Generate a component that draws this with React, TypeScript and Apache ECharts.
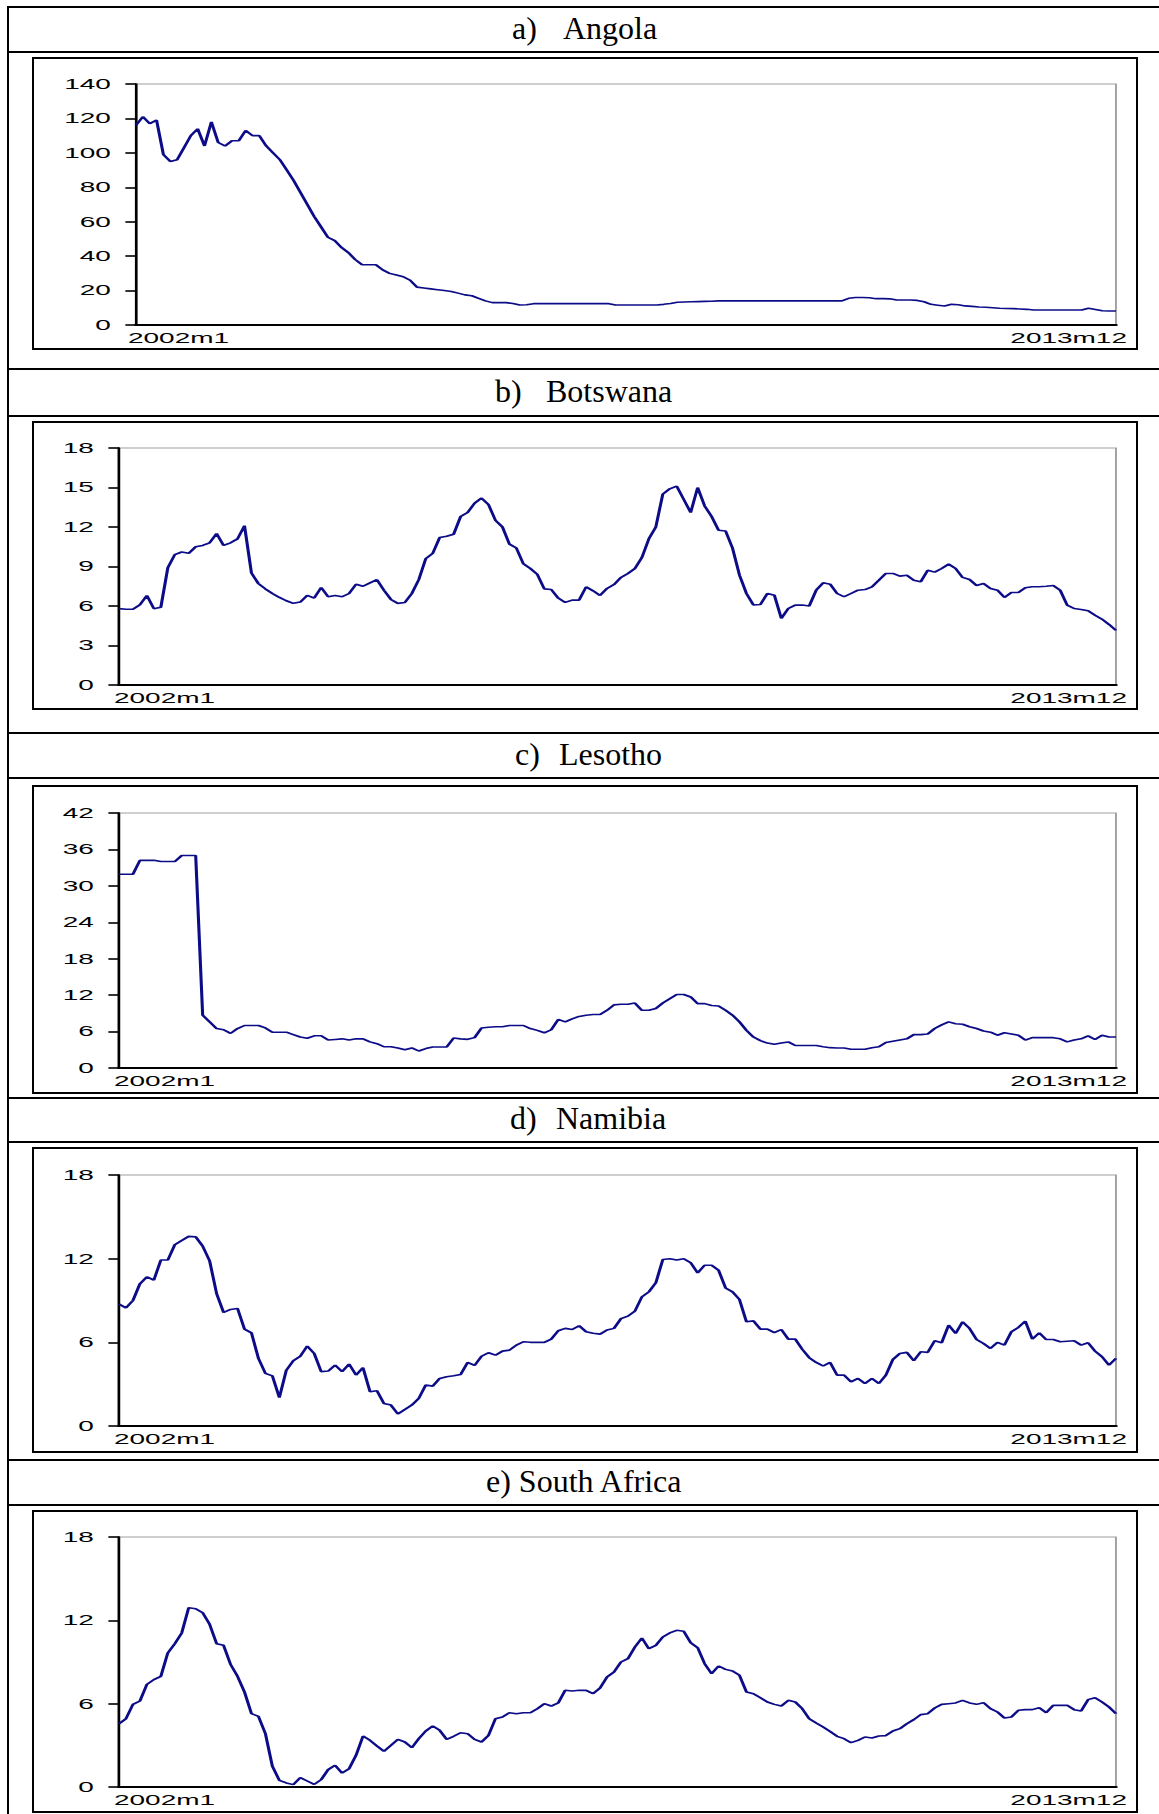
import React, { useEffect, useRef } from "react";
import * as echarts from "echarts";

// ---------- data ----------
const months: string[] = [];
for (let y = 2002; y <= 2013; y++) for (let m = 1; m <= 12; m++) months.push(`${y}m${m}`);

const angola = [
  116, 121, 117, 119, 99, 95, 96, 103, 110, 114,
  104, 118, 106, 104, 107, 107, 113, 110, 110, 104,
  100, 96, 90, 84, 77, 70, 63, 57, 51, 49,
  45, 42, 38, 35, 35, 35, 32, 30, 29, 28,
  26, 22, 21.5, 21, 20.5, 20, 19.5, 18.5, 17.5, 17,
  15.5, 14, 13, 13, 13, 12.5, 11.6, 11.8, 12.4, 12.4,
  12.4, 12.4, 12.4, 12.4, 12.4, 12.4, 12.4, 12.4, 12.4, 12.4,
  11.6, 11.6, 11.6, 11.6, 11.6, 11.6, 11.6, 12, 12.5, 13.2,
  13.4, 13.5, 13.6, 13.7, 13.8, 14, 14, 14, 14, 14,
  14, 14, 14, 14, 14, 14, 14, 14, 14, 14,
  14, 14, 14, 14, 15.5, 16, 16, 15.8, 15.3, 15.3,
  15.2, 14.5, 14.5, 14.5, 14.3, 13.5, 12, 11.5, 11, 12,
  11.8, 11.1, 10.8, 10.5, 10.3, 10, 9.7, 9.6, 9.5, 9.3,
  9.1, 8.7, 8.7, 8.7, 8.7, 8.7, 8.7, 8.7, 8.7, 9.7,
  9, 8.3, 8.1, 8.1,
];

const botswana = [
  5.8, 5.75, 5.75, 6.1, 6.8, 5.8, 5.9, 8.9, 9.9, 10.1,
  10.0, 10.5, 10.6, 10.8, 11.5, 10.6, 10.8, 11.1, 12.1, 8.5,
  7.7, 7.3, 6.95, 6.65, 6.4, 6.2, 6.3, 6.8, 6.6, 7.4,
  6.7, 6.8, 6.7, 6.95, 7.65, 7.5, 7.75, 8.0, 7.2, 6.5,
  6.2, 6.27, 6.95, 8.0, 9.6, 10.0, 11.2, 11.3, 11.45, 12.8,
  13.1, 13.8, 14.2, 13.7, 12.5, 12.0, 10.7, 10.4, 9.2, 8.85,
  8.4, 7.3, 7.25, 6.6, 6.27, 6.45, 6.45, 7.45, 7.15, 6.8,
  7.33, 7.63, 8.17, 8.47, 8.85, 9.68, 11.1, 12.0, 14.5, 14.9,
  15.1, 14.1, 13.1, 15.0, 13.6, 12.8, 11.75, 11.7, 10.4, 8.34,
  6.95, 6.07, 6.12, 6.95, 6.82, 5.06, 5.81, 6.07, 6.07, 6.0,
  7.2, 7.76, 7.66, 6.95, 6.7, 6.95, 7.2, 7.25, 7.46, 7.96,
  8.47, 8.47, 8.27, 8.34, 7.96, 7.84, 8.72, 8.57, 8.85, 9.18,
  8.85, 8.17, 8.01, 7.56, 7.71, 7.33, 7.2, 6.65, 7.03, 7.03,
  7.38, 7.46, 7.46, 7.5, 7.56, 7.2, 6.07, 5.81, 5.74, 5.64,
  5.3, 5.0, 4.6, 4.15,
];

const lesotho = [
  31.9, 31.9, 31.9, 34.2, 34.2, 34.2, 34.0, 34.0, 34.0, 35.0,
  35.0, 35.0, 8.7, 7.6, 6.5, 6.3, 5.7, 6.5, 7.0, 7.0,
  7.0, 6.6, 5.9, 5.9, 5.9, 5.5, 5.1, 4.9, 5.3, 5.3,
  4.6, 4.7, 4.8, 4.6, 4.8, 4.8, 4.3, 4.0, 3.5, 3.5,
  3.3, 3.0, 3.3, 2.8, 3.2, 3.46, 3.46, 3.46, 4.94, 4.8,
  4.72, 5.0, 6.6, 6.7, 6.8, 6.8, 7.0, 7.0, 7.0, 6.5,
  6.2, 5.8, 6.3, 8.0, 7.6, 8.1, 8.5, 8.7, 8.8, 8.8,
  9.5, 10.4, 10.5, 10.5, 10.7, 9.5, 9.5, 9.8, 10.7, 11.4,
  12.1, 12.1, 11.7, 10.6, 10.6, 10.3, 10.2, 9.5, 8.7, 7.6,
  6.2, 5.1, 4.5, 4.1, 3.9, 4.1, 4.3, 3.7, 3.7, 3.7,
  3.7, 3.5, 3.35, 3.3, 3.3, 3.1, 3.1, 3.1, 3.35, 3.5,
  4.2, 4.4, 4.6, 4.8, 5.5, 5.5, 5.6, 6.5, 7.1, 7.6,
  7.3, 7.2, 6.8, 6.5, 6.1, 5.9, 5.4, 5.8, 5.6, 5.4,
  4.6, 5.0, 5.0, 5.0, 5.0, 4.8, 4.3, 4.6, 4.8, 5.3,
  4.7, 5.4, 5.1, 5.1,
];

const namibia = [
  8.74, 8.47, 9.0, 10.2, 10.7, 10.46, 11.9, 11.9, 13.0, 13.3,
  13.6, 13.56, 12.9, 11.84, 9.5, 8.14, 8.36, 8.43, 6.95, 6.68,
  4.85, 3.77, 3.6, 2.03, 4.0, 4.68, 5.0, 5.73, 5.2, 3.9,
  3.94, 4.37, 3.9, 4.44, 3.65, 4.18, 2.46, 2.53, 1.62, 1.5,
  0.86, 1.19, 1.5, 1.98, 2.94, 2.86, 3.41, 3.53, 3.6, 3.7,
  4.56, 4.34, 5.0, 5.25, 5.08, 5.37, 5.44, 5.8, 6.04, 6.0,
  6.0, 6.0, 6.23, 6.83, 7.0, 6.92, 7.19, 6.76, 6.65, 6.59,
  6.88, 7.0, 7.7, 7.88, 8.24, 9.26, 9.62, 10.27, 11.94, 12.0,
  11.9, 12.0, 11.7, 10.98, 11.53, 11.53, 11.17, 9.9, 9.62, 9.07,
  7.47, 7.54, 6.95, 6.95, 6.7, 6.92, 6.23, 6.23, 5.5, 4.9,
  4.56, 4.3, 4.56, 3.65, 3.65, 3.17, 3.41, 3.05, 3.41, 3.05,
  3.65, 4.77, 5.2, 5.28, 4.68, 5.32, 5.28, 6.11, 5.97, 7.23,
  6.64, 7.47, 7.0, 6.2, 5.92, 5.56, 6.0, 5.8, 6.76, 7.07,
  7.52, 6.23, 6.68, 6.2, 6.2, 6.04, 6.08, 6.11, 5.8, 5.97,
  5.37, 4.97, 4.37, 4.85,
];

const southAfrica = [
  4.56, 4.92, 5.95, 6.19, 7.39, 7.73, 7.97, 9.65, 10.32, 11.09,
  12.91, 12.84, 12.55, 11.71, 10.32, 10.2, 8.83, 7.97, 6.84, 5.28,
  5.09, 3.84, 1.49, 0.48, 0.29, 0.17, 0.67, 0.43, 0.19, 0.53,
  1.25, 1.56, 1.0, 1.32, 2.28, 3.67, 3.36, 2.95, 2.57, 3.0,
  3.43, 3.24, 2.83, 3.48, 4.03, 4.39, 4.08, 3.43, 3.65, 3.91,
  3.84, 3.43, 3.24, 3.72, 4.92, 5.04, 5.35, 5.28, 5.35, 5.35,
  5.64, 6.0, 5.83, 6.05, 6.96, 6.91, 6.96, 6.96, 6.72, 7.13,
  7.92, 8.28, 9.0, 9.24, 10.08, 10.73, 9.96, 10.2, 10.8, 11.09,
  11.28, 11.21, 10.39, 10.03, 8.88, 8.16, 8.71, 8.47, 8.35, 8.04,
  6.84, 6.72, 6.43, 6.12, 5.95, 5.83, 6.24, 6.12, 5.64, 4.92,
  4.61, 4.32, 4.0, 3.65, 3.48, 3.19, 3.36, 3.6, 3.53, 3.67,
  3.7, 4.03, 4.2, 4.56, 4.85, 5.21, 5.28, 5.69, 5.95, 6.0,
  6.05, 6.24, 6.05, 5.95, 6.07, 5.64, 5.4, 4.97, 5.04, 5.52,
  5.57, 5.57, 5.71, 5.35, 5.88, 5.88, 5.88, 5.57, 5.47, 6.29,
  6.43, 6.12, 5.76, 5.28,
];

const panelLetters = ["a)", "b)", "c)", "d)", "e)"];
const panelNames = ["Angola", "Botswana", "Lesotho", "Namibia", "South Africa"];
const panelSeries = [angola, botswana, lesotho, namibia, southAfrica];
const yMaxes = [140, 18, 42, 18, 18];
const yIntervals = [20, 3, 6, 6, 6];

// ---------- layout (page pixels) ----------
const PAGE_W = 1159;
const PAGE_H = 1814;
const S = 1.93; // horizontal stretch of the embedded graphs
const BOX_L = 33;
const BOX_R = 1137;
const PLOT_R = 1116;
const TABLE_L = 8;
const layout = [
  { rowTop: 7, titleBottom: 52, boxTop: 58, boxBottom: 349, plotTop: 84, zeroY: 325, axisX: 136, letterX: 512, nameX: 563, lblL: 8 },
  { rowTop: 369, titleBottom: 416, boxTop: 422, boxBottom: 709, plotTop: 448, zeroY: 685, axisX: 119, letterX: 495, nameX: 546, lblL: 5 },
  { rowTop: 733, titleBottom: 778, boxTop: 786, boxBottom: 1093, plotTop: 813, zeroY: 1068, axisX: 119, letterX: 515, nameX: 559, lblL: 5 },
  { rowTop: 1098, titleBottom: 1142, boxTop: 1148, boxBottom: 1452, plotTop: 1175, zeroY: 1426, axisX: 119, letterX: 510, nameX: 556, lblL: 5 },
  { rowTop: 1460, titleBottom: 1505, boxTop: 1511, boxBottom: 1812, plotTop: 1537, zeroY: 1787, axisX: 119, letterX: 486, nameX: 0, lblL: 5 },
];
const LBL_R = 11; // last date label overhang past plot end (page px)

const SANS = '"Liberation Sans", Arial, sans-serif';
const SERIF = '"Liberation Serif", "Times New Roman", serif';
const TITLE_SIZE = 32;
const TICK_SIZE = 14.5;

function backgroundOption() {
  const g: any[] = [];
  const line = (x1: number, y1: number, x2: number, y2: number, w: number) =>
    g.push({ type: "line", silent: true, shape: { x1, y1, x2, y2 }, style: { stroke: "#000", lineWidth: w } });
  line(TABLE_L, 6, TABLE_L, PAGE_H, 2);
  layout.forEach((p, i) => {
    line(TABLE_L - 1, p.rowTop, PAGE_W, p.rowTop, 2);
    line(TABLE_L - 1, p.titleBottom, PAGE_W, p.titleBottom, 2);
    g.push({
      type: "rect",
      silent: true,
      shape: { x: BOX_L, y: p.boxTop, width: BOX_R - BOX_L, height: p.boxBottom - p.boxTop },
      style: { fill: "none", stroke: "#000", lineWidth: 2 },
    });
    const cy = (p.rowTop + p.titleBottom) / 2 - 2;
    const font = `${TITLE_SIZE}px ${SERIF}`;
    const st = { font, fill: "#000", align: "left", verticalAlign: "middle", textAlign: "left", textVerticalAlign: "middle" };
    if (i < 4) {
      g.push({ type: "text", silent: true, style: { ...st, text: panelLetters[i], x: p.letterX, y: cy } });
      g.push({ type: "text", silent: true, style: { ...st, text: panelNames[i], x: p.nameX, y: cy } });
    } else {
      g.push({ type: "text", silent: true, style: { ...st, text: `${panelLetters[i]} ${panelNames[i]}`, x: p.letterX, y: cy } });
    }
  });
  return { animation: false, graphic: { elements: g } };
}

function panelOption(i: number) {
  const p = layout[i];
  return {
    animation: false,
    grid: {
      left: (p.axisX - BOX_L) / S,
      right: (BOX_R - PLOT_R) / S,
      top: p.plotTop - p.boxTop,
      bottom: p.boxBottom - p.zeroY,
      show: true,
      borderColor: "#a0a0a0",
      borderWidth: 1,
      backgroundColor: "transparent",
    },
    xAxis: {
      type: "category",
      data: months,
      boundaryGap: false,
      axisLine: { show: true, onZero: false, lineStyle: { color: "#000", width: 2 } },
      axisTick: { show: false },
      splitLine: { show: false },
      axisLabel: { show: false },
    },
    yAxis: {
      type: "value",
      min: 0,
      max: yMaxes[i],
      interval: yIntervals[i],
      axisLine: { show: true, lineStyle: { color: "#000", width: 1.4 } },
      axisTick: { show: true, length: 5.5, lineStyle: { color: "#000", width: 1.6 } },
      splitLine: { show: false },
      axisLabel: { margin: 13, fontFamily: SANS, fontSize: TICK_SIZE, color: "#000" },
    },
    series: [
      {
        type: "line",
        data: panelSeries[i],
        symbol: "none",
        silent: true,
        lineStyle: { color: "#0c0c88", width: 1.6 },
      },
    ],
  };
}

// first / last date labels placed from the category axis' own pixel positions
function dateLabels(c: echarts.ECharts, i: number) {
  const p = layout[i];
  const first = months[0];
  const last = months[months.length - 1];
  const x0 = c.convertToPixel({ xAxisIndex: 0 }, first) as number;
  const x1 = c.convertToPixel({ xAxisIndex: 0 }, last) as number;
  const y0 = c.convertToPixel({ yAxisIndex: 0 }, 0) as number;
  const st = { fontFamily: SANS, fontSize: TICK_SIZE, fill: "#000", verticalAlign: "top", textVerticalAlign: "top" };
  return {
    graphic: [
      { type: "text", silent: true, x: x0 - p.lblL / S, y: y0 + 6, style: { ...st, text: first, align: "left", textAlign: "left" } },
      { type: "text", silent: true, x: x1 + LBL_R / S, y: y0 + 6, style: { ...st, text: last, align: "right", textAlign: "right" } },
    ],
  };
}

export default function App() {
  const bgRef = useRef<HTMLDivElement>(null);
  const refs = [useRef<HTMLDivElement>(null), useRef<HTMLDivElement>(null), useRef<HTMLDivElement>(null), useRef<HTMLDivElement>(null), useRef<HTMLDivElement>(null)];

  useEffect(() => {
    const charts: echarts.ECharts[] = [];
    if (bgRef.current) {
      const bg = echarts.init(bgRef.current, undefined, { renderer: "svg" });
      bg.setOption(backgroundOption());
      charts.push(bg);
    }
    refs.forEach((r, i) => {
      if (!r.current) return;
      const c = echarts.init(r.current, undefined, { renderer: "svg" });
      c.setOption(panelOption(i));
      c.setOption(dateLabels(c, i));
      charts.push(c);
    });
    return () => charts.forEach((c) => c.dispose());
  }, []);

  return (
    <div style={{ position: "absolute", left: 0, top: 0, width: PAGE_W, height: PAGE_H, overflow: "hidden", background: "#fff" }}>
      <div ref={bgRef} style={{ position: "absolute", left: 0, top: 0, width: PAGE_W, height: PAGE_H }} />
      {layout.map((p, i) => (
        <div
          key={i}
          ref={refs[i]}
          style={{
            position: "absolute",
            left: BOX_L,
            top: p.boxTop,
            width: (BOX_R - BOX_L) / S,
            height: p.boxBottom - p.boxTop,
            transform: `scaleX(${S})`,
            transformOrigin: "0 0",
          }}
        />
      ))}
    </div>
  );
}
